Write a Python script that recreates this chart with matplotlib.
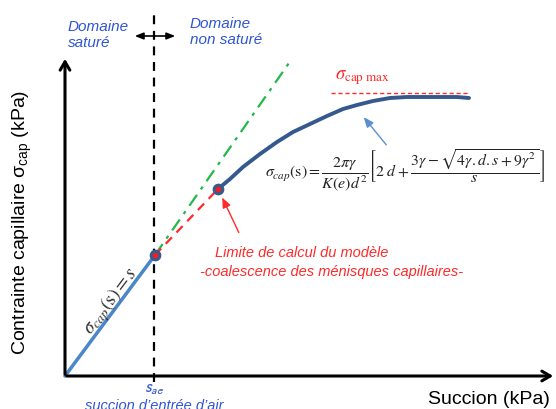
import matplotlib
matplotlib.use("Agg")
import matplotlib.pyplot as plt

plt.rcParams['font.family'] = ['Liberation Sans', 'DejaVu Sans']
plt.rcParams['mathtext.fontset'] = 'stix'

# --- schematic data (x = succion, y = contrainte, arbitrary units) ---
sat_s = [0, 90]
sat_sigma = [0, 121]
tangent_s = [90, 224]
tangent_sigma = [121, 313]
limit_s = [90, 153]
limit_sigma = [121, 187]
curve_s = [153, 165, 178, 195, 212, 228, 245, 262, 278, 292, 308, 325, 342, 358, 375, 392, 404]
curve_sigma = [187, 197, 209, 222, 234, 244, 252, 260, 267, 271, 275, 278, 279, 279, 279, 279, 278]
sigma_max = 283
sigma_max_range = [266, 404]
s_ae = 89
key_points_s = [90, 153]
key_points_sigma = [121, 187]

fig = plt.figure(figsize=(5.56, 4.10), dpi=100)
ax = fig.add_axes([0, 0, 1, 1])
ax.set_xlim(-65, 491)
ax.set_ylim(-33, 377)
ax.axis('off')

blue_txt = '#2f55d4'
red = '#ff2a2a'

# axes with arrows
ax.annotate('', xy=(0, 320), xytext=(0, -1),
            arrowprops=dict(arrowstyle='->,head_length=0.6,head_width=0.35', lw=2.2, color='black'))
ax.annotate('', xy=(491, 0), xytext=(-1, 0),
            arrowprops=dict(arrowstyle='->,head_length=0.6,head_width=0.35', lw=2.2, color='black'))

# vertical dashed line at s_ae
ax.plot([s_ae, s_ae], [-6, 362], color='black', lw=1.6, ls=(0, (4, 3)))

# double arrow
ax.annotate('', xy=(67, 340), xytext=(113, 340),
            arrowprops=dict(arrowstyle='<|-|>,head_length=0.5,head_width=0.2', lw=1.2, color='black'))

# lines
ax.plot(sat_s, sat_sigma, color='#4a86c8', lw=2.5, solid_capstyle='round')
ax.plot(tangent_s, tangent_sigma, color='#22b84a', lw=1.6, ls=(0, (6, 3, 1.5, 3)))
ax.plot(limit_s, limit_sigma, color=red, lw=1.6, ls=(0, (4, 3)))
ax.plot(curve_s, curve_sigma, color='#35598c', lw=2.8, solid_capstyle='round',
        solid_joinstyle='round')
ax.plot(sigma_max_range, [sigma_max, sigma_max], color=red, lw=1.0, ls=(0, (3, 2)))

ax.scatter(key_points_s, key_points_sigma, s=55, color='#3a5a8c', zorder=5)
ax.scatter(key_points_s, key_points_sigma, s=8, color='#ff1a1a', zorder=6)

# annotations
ax.text(3, 342, 'Domaine\nsaturé', color=blue_txt, style='italic', fontsize=11,
        ha='left', va='center', linespacing=1.25)
ax.text(125, 345, 'Domaine\nnon saturé', color=blue_txt, style='italic', fontsize=11,
        ha='left', va='center', linespacing=1.25)

ax.text(298, 299, r'$\sigma_{\mathrm{cap\ max}}$', color=red, fontsize=13.5, ha='center', va='center')

ax.annotate('', xy=(297, 261), xytext=(323, 229),
            arrowprops=dict(arrowstyle='-|>,head_length=0.6,head_width=0.25', lw=1.0, color='#5b8fd0'))

ax.text(200, 207,
        r'$\sigma_{cap}(\mathrm{s}) = \dfrac{2\pi\gamma}{K(e)d^2}\left[2\ d + \dfrac{3\gamma - \sqrt{4\gamma.d.s + 9\gamma^2}}{s}\right]$',
        fontsize=11.4, color='#222222', ha='left', va='center')

ax.annotate('', xy=(156, 181), xytext=(175, 141),
            arrowprops=dict(arrowstyle='-|>,head_length=0.6,head_width=0.25', lw=1.0, color=red))
ax.text(150, 124, 'Limite de calcul du modèle', color=red, style='italic', fontsize=10.5,
        ha='left', va='center')
ax.text(135, 105, '-coalescence des ménisques capillaires-', color=red, style='italic',
        fontsize=10.5, ha='left', va='center')

ax.text(46, 76, r'$\sigma_{cap}(\mathrm{s}) = s$', color='#333333', fontsize=14,
        rotation=53, rotation_mode='anchor', ha='center', va='center')

ax.text(s_ae, -13, r'$\mathsf{s}_{\mathsf{ae}}$', color=blue_txt, fontsize=12.5,
        ha='center', va='center', style='italic')
ax.text(s_ae, -29, 'succion d’entrée d’air', color=blue_txt, style='italic', fontsize=10.5,
        ha='center', va='center')

ax.text(485, -23, 'Succion (kPa)', fontsize=14, ha='right', va='center', color='black')
ax.text(-43, 155, r'Contrainte capillaire $\mathregular{\sigma_{cap}}$ (kPa)', fontsize=14,
        rotation=90, ha='center', va='center', color='black')

fig.savefig('out.png', dpi=100)
